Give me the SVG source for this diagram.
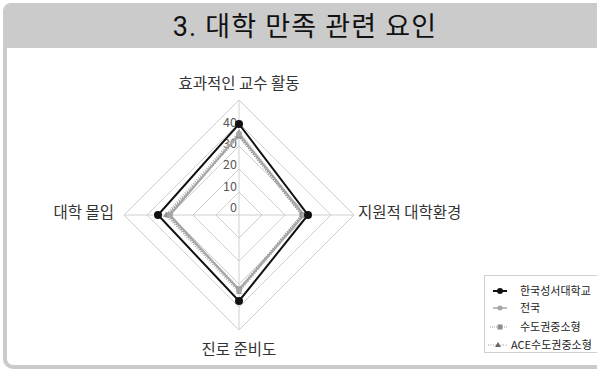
<svg xmlns="http://www.w3.org/2000/svg" width="597" height="370" viewBox="0 0 597 370">
<defs>
<style>
.t{font-family:"Noto Sans CJK KR","Noto Sans",sans-serif;}
.title{font-family:Roboto,"Noto Sans CJK KR",sans-serif;font-size:27px;fill:#111;letter-spacing:1.2px;}
.ax{font-size:15.5px;fill:#333;}
.tick{font-size:12.5px;fill:#595959;text-anchor:end;}
.leg{font-size:11px;fill:#222;}
.grid{fill:none;stroke:#cfcfcf;stroke-width:1;}
.s1{fill:none;stroke:#111;stroke-width:2;}
.s2{fill:none;stroke:#a6a6a6;stroke-width:2;}
.s3{fill:none;stroke:#999;stroke-width:2;stroke-dasharray:1.5 1;}
.s4{fill:none;stroke:#b0b0b0;stroke-width:2;stroke-dasharray:1 1.5;}
</style>
</defs>
<g id="frame">
<rect x="5" y="5" width="600" height="362" rx="8" fill="#fff" stroke="#cbcbcb" stroke-width="4"/>
<path d="M3,48 V12 Q3,3 12,3 H597 V48 Z" fill="#cbcbcb"/>
<text class="title" x="305" y="36" text-anchor="middle">3. 대학 만족 관련 요인</text>
</g>
<g id="grid">
<polygon class="grid" points="239,192 262,215 239,238 216,215"/>
<polygon class="grid" points="239,169 285,215 239,261 193,215"/>
<polygon class="grid" points="239,146 308,215 239,284 170,215"/>
<polygon class="grid" points="239,123 331,215 239,307 147,215"/>
<polygon class="grid" points="239,100 354,215 239,330 124,215"/>
<line class="grid" x1="239" y1="100" x2="239" y2="330"/>
<line class="grid" x1="124" y1="215" x2="354" y2="215"/>
</g>
<g id="ticks" class="t">
<text class="tick" x="237" y="212">0</text>
<text class="tick" x="237" y="191">10</text>
<text class="tick" x="237" y="169">20</text>
<text class="tick" x="237" y="148">30</text>
<text class="tick" x="237" y="127">40</text>
</g>
<g id="axis-labels" class="t">
<g id="ax-top"><text class="ax" x="239" y="89" text-anchor="middle">효과적인 교수 활동</text></g>
<g id="ax-right"><text class="ax" x="358" y="218">지원적 대학환경</text></g>
<g id="ax-bottom"><text class="ax" x="239" y="355" text-anchor="middle">진로 준비도</text></g>
<g id="ax-left"><text class="ax" x="114" y="218" text-anchor="end">대학 몰입</text></g>
</g>
<g id="connectors">
<polygon class="s4" points="239,132 303,215 239,292 166,215"/>
<polygon class="s3" points="239,136 302,215 239,289 168,215"/>
<polygon class="s2" points="239,134 304,215 239,290 170,215"/>
<polygon class="s1" points="239,124 308,215 239,301 158,215"/>
</g>
<g id="series-ace" fill="#999">
<polygon points="239,129 242,134 236,134"/><polygon points="303,212 306,217 300,217"/><polygon points="239,289 242,294 236,294"/><polygon points="166,212 169,217 163,217"/>
</g>
<g id="series-sudo" fill="#8c8c8c">
<rect x="236.5" y="133.5" width="5" height="5"/><rect x="299.5" y="212.5" width="5" height="5"/><rect x="236.5" y="286.5" width="5" height="5"/><rect x="165.5" y="212.5" width="5" height="5"/>
</g>
<g id="series-national" fill="#a6a6a6">
<circle cx="239" cy="134" r="3"/><circle cx="304" cy="215" r="3"/><circle cx="239" cy="290" r="3"/><circle cx="170" cy="215" r="3"/>
</g>
<g id="series-school" fill="#111">
<circle cx="239" cy="124" r="4"/><circle cx="308" cy="215" r="4"/><circle cx="239" cy="301" r="4"/><circle cx="158" cy="215" r="4"/>
</g>
<g id="legend" class="t">
<rect x="484.5" y="275.5" width="130" height="77" fill="#fff" stroke="#cfcfcf" stroke-width="1"/>
<line class="s1" x1="493" y1="291" x2="507" y2="291"/><circle cx="500" cy="291" r="3" fill="#111"/>
<text class="leg" x="520" y="295">한국성서대학교</text>
<line x1="493" y1="308" x2="507" y2="308" stroke="#a6a6a6" stroke-width="1.5"/><circle cx="500" cy="308" r="2.5" fill="#a6a6a6"/>
<text class="leg" x="520" y="312">전국</text>
<line x1="490" y1="327" x2="508" y2="327" stroke="#999" stroke-width="1.2" stroke-dasharray="1 1"/><rect x="497.5" y="324.5" width="5" height="5" fill="#8c8c8c"/>
<text class="leg" x="520" y="331">수도권중소형</text>
<line x1="488" y1="345" x2="508" y2="345" stroke="#999" stroke-width="1.2" stroke-dasharray="1 1.5"/><polygon points="498,342 501,347 495,347" fill="#666"/>
<text class="leg" x="511" y="349">ACE수도권중소형</text>
</g>
</svg>
